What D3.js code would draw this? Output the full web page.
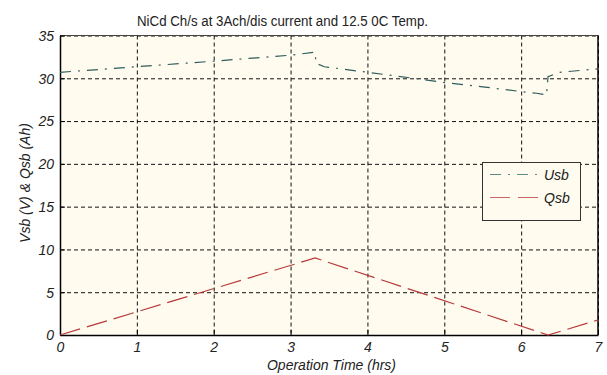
<!DOCTYPE html>
<html><head><meta charset="utf-8">
<script src="https://cdn.jsdelivr.net/npm/d3@7"></script>
<style>body{margin:0;background:#fff;}svg{display:block;font-family:"Liberation Sans",Arial,sans-serif;}</style>
</head><body>
<script>
const title = "NiCd Ch/s at 3Ach/dis current and 12.5 0C Temp.";
const xLabel = "Operation Time (hrs)";
const yLabel = "Vsb (V) & Qsb (Ah)";
const xTicks = [0,1,2,3,4,5,6,7];
const yTicks = [0,5,10,15,20,25,30,35];
const usbTime = [0,1,2,3,3.32,3.33,3.44,4,4.6,5,5.5,6,6.2,6.33,6.35,6.5,7];
const usbVal  = [30.7,31.35,32.0,32.7,33.05,31.75,31.35,30.7,30.0,29.5,29.0,28.45,28.25,28.05,30.2,30.7,31.1];
const qsbTime = [0,3.32,6.35,7];
const qsbVal  = [0,9.0,0,1.75];
const seriesNames = ["Usb","Qsb"];

const W=607,H=375;
const L=60,R=598,T=35.5,B=335;
const svg=d3.select("body").append("svg").attr("width",W).attr("height",H);
const x=d3.scaleLinear().domain([0,7]).range([L,R]);
const y=d3.scaleLinear().domain([0,35]).range([B,T]);

svg.append("rect").attr("x",L).attr("y",T).attr("width",R-L).attr("height",B-T).attr("fill","#FFFBEF");

// grid
const g=svg.append("g");
g.selectAll("line.vx").data(xTicks).enter().append("line")
 .attr("x1",d=>x(d)+0.5).attr("x2",d=>x(d)+0.5).attr("y1",T).attr("y2",B)
 .attr("stroke","#111").attr("stroke-width",1).attr("stroke-dasharray","4,3");
g.selectAll("line.hy").data(yTicks).enter().append("line")
 .attr("x1",L).attr("x2",R).attr("y1",d=>y(d)+0.5).attr("y2",d=>y(d)+0.5)
 .attr("stroke","#111").attr("stroke-width",1).attr("stroke-dasharray","4,3");

// box
svg.append("line").attr("x1",L).attr("x2",R).attr("y1",T).attr("y2",T).attr("stroke","#444").attr("stroke-width",1);
svg.append("line").attr("x1",R).attr("x2",R).attr("y1",T).attr("y2",B).attr("stroke","#000").attr("stroke-width",1.5);

// axes
const xa=svg.append("g").attr("transform",`translate(0,${B})`)
 .call(d3.axisBottom(x).tickValues(xTicks).tickFormat(d3.format("d")).tickSizeInner(-5).tickSizeOuter(0).tickPadding(7));
const ya=svg.append("g").attr("transform",`translate(${L},0)`)
 .call(d3.axisLeft(y).tickValues(yTicks).tickFormat(d3.format("d")).tickSizeInner(-5).tickSizeOuter(0).tickPadding(6));
[xa,ya].forEach(a=>{
  a.select(".domain").attr("stroke","#000").attr("stroke-width",1.5);
  a.selectAll(".tick line").attr("stroke","#000");
  a.selectAll("text").attr("font-size",14).attr("font-style","italic").attr("fill","#222")
   .attr("font-family","'Liberation Sans',Arial,sans-serif");
});
ya.selectAll("text").attr("dy","0.35em");

// lines
const line=d3.line().x(d=>x(d[0])).y(d=>y(d[1]));
const usbData=usbTime.map((t,i)=>[t,usbVal[i]]);
const qsbData=qsbTime.map((t,i)=>[t,qsbVal[i]]);
const usbColor="#2F5C5C", qsbColor="#B83A3A";
svg.append("path").datum(usbData).attr("d",line).attr("fill","none").attr("stroke",usbColor).attr("stroke-width",1.2).attr("stroke-dasharray","11,7,2,7");
svg.append("path").datum(qsbData).attr("d",line).attr("fill","none").attr("stroke",qsbColor).attr("stroke-width",1.2).attr("stroke-dasharray","21,7");

// legend
const lg=svg.append("g");
lg.append("rect").attr("x",482.5).attr("y",162.5).attr("width",98).attr("height",58).attr("fill","#FFFBEF").attr("stroke","#333").attr("stroke-width",1);
const legY=[174.5,197.5];
const legCol=["#5E8A8A","#C86464"];
const legDash=["11,7,2,7","20,8"];
seriesNames.forEach((n,i)=>{
  lg.append("line").attr("x1",490).attr("x2",539).attr("y1",legY[i]).attr("y2",legY[i]).attr("stroke",legCol[i]).attr("stroke-width",1.2).attr("stroke-dasharray",legDash[i]);
  lg.append("text").attr("x",544).attr("y",legY[i]+5).attr("font-size",14).attr("font-style","italic").attr("fill","#222").text(n);
});

// titles
svg.append("text").attr("x",137).attr("y",26).attr("font-size",14).attr("fill","#222").attr("textLength",291).attr("lengthAdjust","spacingAndGlyphs").text(title);
svg.append("text").attr("x",331.5).attr("y",370).attr("text-anchor","middle").attr("font-size",14).attr("font-style","italic").attr("fill","#222").text(xLabel);
svg.append("text").attr("transform","translate(30,183) rotate(-90)").attr("text-anchor","middle").attr("font-size",14).attr("font-style","italic").attr("fill","#222").text(yLabel);
</script>
</body></html>
